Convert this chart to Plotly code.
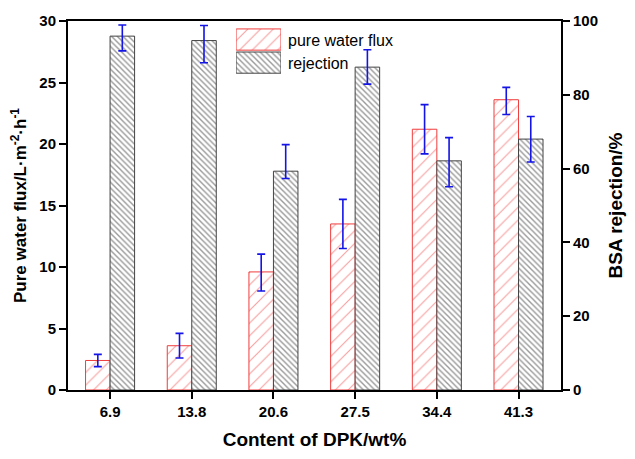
import plotly.graph_objects as go

categories = ["6.9", "13.8", "20.6", "27.5", "34.4", "41.3"]
flux = [2.4, 3.6, 9.6, 13.5, 21.2, 23.6]
flux_err_plus = [0.5, 1.0, 1.45, 2.0, 2.0, 1.0]
flux_err_minus = [0.5, 1.0, 1.55, 2.0, 2.0, 1.2]
rejection = [95.9, 94.7, 59.3, 87.5, 62.1, 68.0]
rej_err_plus = [3.0, 4.1, 7.2, 4.7, 6.3, 6.1]
rej_err_minus = [4.0, 6.0, 2.0, 4.6, 7.0, 6.2]
legend_labels = ["pure water flux", "rejection"]

xpos = list(range(len(categories)))
RED = "#f03c3c"
BLUE = "#1414e6"
FONT = "Liberation Sans, Arial, sans-serif"

red_marker = dict(color="white", line=dict(color=RED, width=1),
                  pattern=dict(shape="/", fgcolor=RED, bgcolor="white", size=9, solidity=0.12))
gray_marker = dict(color="white", line=dict(color="#444444", width=1),
                   pattern=dict(shape="\\", fgcolor="#333333", bgcolor="white", size=4, solidity=0.35))

fig = go.Figure()

fig.add_trace(go.Bar(
    x=xpos, y=flux, width=0.3, offset=-0.3, name=legend_labels[0],
    marker=red_marker,
    error_y=dict(type="data", array=flux_err_plus, arrayminus=flux_err_minus,
                 color=BLUE, thickness=1.6, width=4),
    showlegend=False, yaxis="y",
))
fig.add_trace(go.Bar(
    x=xpos, y=rejection, width=0.3, offset=0, name=legend_labels[1],
    marker=gray_marker,
    error_y=dict(type="data", array=rej_err_plus, arrayminus=rej_err_minus,
                 color=BLUE, thickness=1.6, width=4),
    showlegend=False, yaxis="y2",
))

# custom legend swatches drawn as bars on a small helper axis
fig.add_trace(go.Bar(
    y=[0], x=[1], orientation="h", width=0.92, xaxis="x3", yaxis="y3", showlegend=False,
    marker=red_marker, hoverinfo="skip",
))
fig.add_trace(go.Bar(
    y=[1], x=[1], orientation="h", width=0.92, xaxis="x3", yaxis="y3", showlegend=False,
    marker=gray_marker, hoverinfo="skip",
))

tickfont = dict(family=FONT, size=15, color="black", weight="bold")

fig.update_layout(
    width=635, height=459,
    margin=dict(l=68, r=65, t=21, b=69),
    paper_bgcolor="white", plot_bgcolor="white",
    font=dict(family=FONT, color="black"),
    barmode="overlay",
    showlegend=False,
    xaxis=dict(
        range=[-0.515, 5.52], tickvals=xpos, ticktext=categories,
        showgrid=False, zeroline=False, showline=True, linecolor="black", linewidth=2,
        mirror=True, ticks="outside", ticklen=7, tickwidth=2, tickcolor="black",
        tickfont=tickfont,
        title=dict(text="Content of DPK/wt%", font=dict(family=FONT, size=19, color="black", weight="bold"), standoff=14),
    ),
    yaxis=dict(
        range=[0, 30], dtick=5, showgrid=False, zeroline=False,
        showline=True, linecolor="black", linewidth=2,
        ticks="outside", ticklen=7, tickwidth=2, tickcolor="black",
        tickfont=tickfont,
        title=dict(text="Pure water flux/L·m<sup>-2</sup>·h<sup>-1</sup>", font=dict(family=FONT, size=17, color="black", weight="bold"), standoff=8),
    ),
    yaxis2=dict(
        range=[0, 100], dtick=20, overlaying="y", side="right",
        showgrid=False, zeroline=False, showline=True, linecolor="black", linewidth=2,
        ticks="outside", ticklen=7, tickwidth=2, tickcolor="black",
        tickfont=tickfont,
        title=dict(text="BSA rejection/%", font=dict(family=FONT, size=19, color="black", weight="bold"), standoff=12),
    ),
    xaxis3=dict(domain=[0.341, 0.432], range=[0, 1], visible=False, fixedrange=True),
    yaxis3=dict(domain=[0.856, 0.981], range=[1.5, -0.5], visible=False, fixedrange=True, anchor="x3"),
    annotations=[
        dict(x=0.442, y=0.9485, xref="paper", yref="paper", text=legend_labels[0], showarrow=False,
             xanchor="left", yanchor="middle", font=dict(family=FONT, size=16, color="black")),
        dict(x=0.442, y=0.8835, xref="paper", yref="paper", text=legend_labels[1], showarrow=False,
             xanchor="left", yanchor="middle", font=dict(family=FONT, size=16, color="black")),
    ],
)

fig.write_html("out.html")
